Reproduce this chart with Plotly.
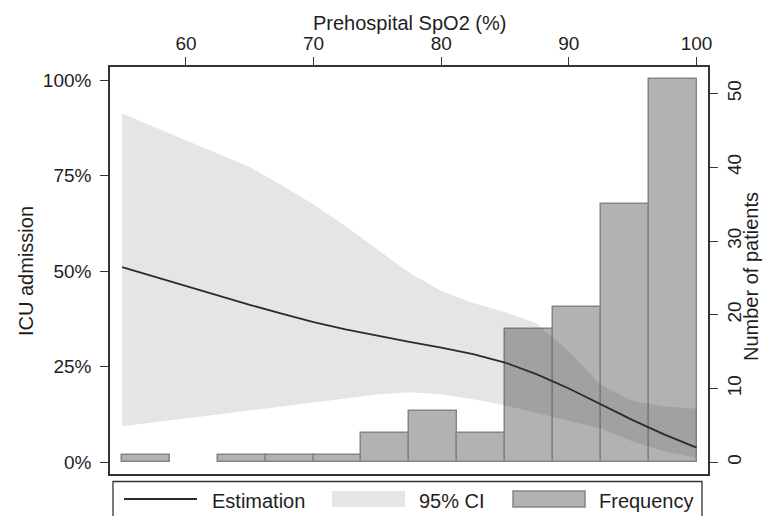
import plotly.graph_objects as go

# ---------------- data ----------------
# Histogram of prehospital SpO2 (bin width 3.75, from 55 to 100)
bin_centers = [56.875, 60.625, 64.375, 68.125, 71.875, 75.625,
               79.375, 83.125, 86.875, 90.625, 94.375, 98.125]
counts = [1, 0, 1, 1, 1, 4, 7, 4, 18, 21, 35, 52]
bin_width = 3.75

# Estimated probability of ICU admission (%) with 95% CI
spo2 = [55, 57.5, 60, 62.5, 65, 67.5, 70, 72.5, 75, 77.5,
        80, 82.5, 85, 87.5, 90, 92.5, 95, 97.5, 100]
estimate = [51.1, 48.6, 46.1, 43.6, 41.2, 38.9, 36.7, 34.8, 33.1, 31.5,
            30.0, 28.3, 26.1, 23.0, 19.3, 15.2, 11.0, 7.2, 3.8]
ci_upper = [91.3, 87.8, 84.3, 80.8, 77.3, 72.5, 67.5, 61.8, 55.8, 49.6,
            44.8, 41.7, 39.3, 36.3, 29.0, 20.3, 16.0, 14.6, 14.0]
ci_lower = [9.4, 10.5, 11.5, 12.5, 13.5, 14.6, 15.6, 16.7, 17.7, 18.3,
            17.8, 16.5, 14.9, 12.8, 10.8, 8.8, 5.4, 2.8, 1.2]

pct_ticks = [0, 25, 50, 75, 100]
pct_labels = ["0%", "25%", "50%", "75%", "100%"]
count_ticks = [0, 10, 20, 30, 40, 50]
x_ticks = [60, 70, 80, 90, 100]

legend_labels = ["Estimation", "95% CI", "Frequency"]

# ---------------- styling ----------------
W, H = 763, 516
ML, MR, MT = 110, 55, 67
PH = 407
MB = H - MT - PH
PW = W - ML - MR
FONT = "Liberation Sans, Arial, sans-serif"
TXT = "#1e1e1e"
AX = "#333333"
BAR_FILL = "#b2b2b2"
BAR_LINE = "#858585"
CI_FILL = "rgba(40,40,40,0.12)"


def px_x(px):
    return (px - ML) / PW


def px_y(py):
    return (MT + PH - py) / PH


fig = go.Figure()

fig.add_trace(go.Bar(
    x=bin_centers, y=[c if c > 0 else None for c in counts], width=bin_width,
    marker=dict(color=BAR_FILL, line=dict(color=BAR_LINE, width=1.5)),
    yaxis="y", showlegend=False, hoverinfo="skip"))

fig.add_trace(go.Scatter(
    x=spo2, y=ci_lower, mode="lines", line=dict(width=0, color=CI_FILL),
    yaxis="y2", showlegend=False, hoverinfo="skip"))
fig.add_trace(go.Scatter(
    x=spo2, y=ci_upper, mode="lines", line=dict(width=0, color=CI_FILL),
    fill="tonexty", fillcolor=CI_FILL,
    yaxis="y2", showlegend=False, hoverinfo="skip"))
fig.add_trace(go.Scatter(
    x=spo2, y=estimate, mode="lines", line=dict(width=1.8, color="#2b2b2b"),
    yaxis="y2", showlegend=False))

axis_common = dict(
    showgrid=False, zeroline=False, showline=True, linecolor=AX, linewidth=1.5,
    mirror=True, ticks="outside", ticklen=8, tickwidth=1.3, tickcolor=AX,
    tickfont=dict(family=FONT, size=19, color=TXT),
)

fig.update_layout(
    width=W, height=H, autosize=False,
    margin=dict(l=ML, r=MR, t=MT, b=MB, pad=0),
    paper_bgcolor="white", plot_bgcolor="white",
    showlegend=False, bargap=0, hovermode=False,
    font=dict(family=FONT, size=19, color=TXT),
    xaxis=dict(side="top", range=[54.05, 100.9], tickvals=x_ticks,
               ticklabelstandoff=0, **axis_common),
    yaxis=dict(side="right", range=[-1.6, 53.6], tickvals=count_ticks,
               tickangle=-90, ticklabelstandoff=0, **axis_common),
    yaxis2=dict(side="left", overlaying="y", range=[-3.1, 103.5],
                tickvals=pct_ticks, ticktext=pct_labels,
                ticklabelstandoff=5, **axis_common),
)

# axis titles
fig.add_annotation(text="Prehospital SpO2 (%)", xref="paper", yref="paper",
                   x=0.5, y=px_y(23), xanchor="center", yanchor="middle",
                   showarrow=False, font=dict(family=FONT, size=20, color=TXT))
fig.add_annotation(text="ICU admission", xref="paper", yref="paper",
                   x=px_x(26), y=px_y(271), xanchor="center", yanchor="middle",
                   textangle=-90, showarrow=False,
                   font=dict(family=FONT, size=20, color=TXT))
fig.add_annotation(text="Number of patients", xref="paper", yref="paper",
                   x=px_x(751), y=px_y(277), xanchor="center", yanchor="middle",
                   textangle=-90, showarrow=False,
                   font=dict(family=FONT, size=20, color=TXT))

# manual legend (box, keys, labels)
fig.add_shape(type="rect", xref="paper", yref="paper",
              x0=px_x(113), x1=px_x(702), y0=px_y(481.5), y1=px_y(540),
              line=dict(color=AX, width=1.3), fillcolor="rgba(0,0,0,0)")
fig.add_shape(type="line", xref="paper", yref="paper",
              x0=px_x(124), x1=px_x(197), y0=px_y(499), y1=px_y(499),
              line=dict(color="#2b2b2b", width=1.8))
fig.add_shape(type="rect", xref="paper", yref="paper",
              x0=px_x(332), x1=px_x(405), y0=px_y(491), y1=px_y(507),
              line=dict(width=0), fillcolor="#e6e6e6")
fig.add_shape(type="rect", xref="paper", yref="paper",
              x0=px_x(513), x1=px_x(585), y0=px_y(491), y1=px_y(507),
              line=dict(color=BAR_LINE, width=1.5), fillcolor=BAR_FILL)
for label, px0 in zip(legend_labels, [210, 417, 597]):
    fig.add_annotation(text=label, xref="paper", yref="paper",
                       x=px_x(px0), y=px_y(501), xanchor="left", yanchor="middle",
                       showarrow=False, font=dict(family=FONT, size=20, color=TXT))

fig.write_html(
    "out.html",
    config={"displayModeBar": False},
    post_script="document.body.style.margin='0';"
                "document.body.style.overflow='hidden';",
)
